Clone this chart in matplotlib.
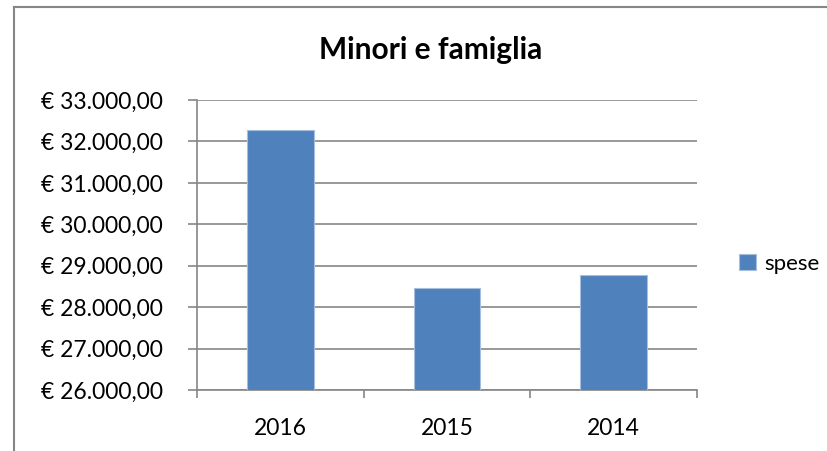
import matplotlib.pyplot as plt
from matplotlib.ticker import FuncFormatter, FixedLocator

anni = ["2016", "2015", "2014"]
spese = [32280, 28470, 28770]
y_ticks = [26000, 27000, 28000, 29000, 30000, 31000, 32000, 33000]

plt.rcParams["font.family"] = ["Lato", "DejaVu Sans"]
grigio = "#868686"


def euro(v, pos=None):
    s = f"{v:,.2f}".replace(",", "X").replace(".", ",").replace("X", ".")
    return f"€ {s}"


fig = plt.figure(figsize=(8.28, 4.51), dpi=100)
ax = fig.add_axes([197 / 828, 1 - 390 / 451, 500 / 828, 290 / 451])

x = range(len(anni))
ax.bar(x, spese, width=0.4, color="#4F81BD", edgecolor="#A7BFDE", linewidth=0.8,
       zorder=3, label="spese")

ax.set_xlim(-0.5, len(anni) - 0.5)
ax.set_ylim(y_ticks[0], y_ticks[-1])
ax.set_yticks(y_ticks)
ax.yaxis.set_major_formatter(FuncFormatter(euro))
ax.set_xticks(list(x))
ax.set_xticklabels(anni)
ax.xaxis.set_minor_locator(FixedLocator([i - 0.5 for i in range(len(anni) + 1)]))

ax.grid(axis="y", color=grigio, linewidth=1.2, zorder=0)
ax.tick_params(axis="x", which="major", length=0, pad=20, labelsize=16.5)
ax.tick_params(axis="x", which="minor", length=6, width=1.2, color=grigio)
ax.tick_params(axis="y", length=6.5, width=1.2, color=grigio, pad=18, labelsize=16.5)

for side in ["top", "right"]:
    ax.spines[side].set_visible(False)
for side in ["left", "bottom"]:
    ax.spines[side].set_color(grigio)
    ax.spines[side].set_linewidth(1.2)

fig.text(431 / 828, 1 - 50 / 451, "Minori e famiglia", ha="center", va="center",
         fontsize=21.5, fontweight="bold")

ax.legend(loc="center left", bbox_to_anchor=(1.045, 0.435), frameon=False,
          fontsize=16, handlelength=0.75, handleheight=0.75, handletextpad=0.35)

# cornice del grafico
fig.add_artist(plt.Line2D([14 / 828, 14 / 828], [0, 1 - 7 / 451], color=grigio, linewidth=1.5))
fig.add_artist(plt.Line2D([14 / 828, 1], [1 - 7 / 451, 1 - 7 / 451], color=grigio, linewidth=1.5))

fig.savefig("out.png", dpi=100)
